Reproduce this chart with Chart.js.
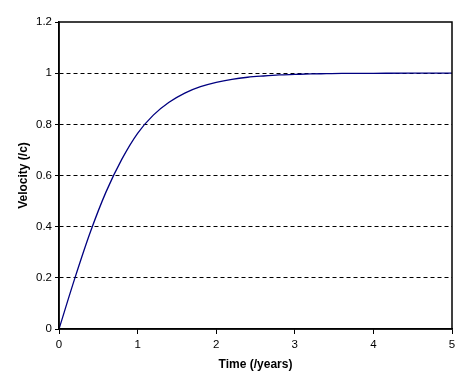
<!DOCTYPE html>
<html>
<head>
<meta charset="utf-8">
<script src="https://cdn.jsdelivr.net/npm/chart.js@4/dist/chart.umd.min.js"></script>
<style>
  html, body { margin: 0; padding: 0; background: #ffffff; }
  #wrap { width: 463px; height: 380px; position: relative; }
</style>
</head>
<body>
<div id="wrap"><canvas id="c" width="463" height="380"></canvas></div>
<script>
// Time (years) and velocity (fraction of c)
const times = [0, 0.2, 0.4, 0.6, 0.8, 1.0, 1.2, 1.4, 1.6, 1.8, 2.0, 2.2, 2.4, 2.6, 2.8, 3.0, 3.2, 3.4, 3.6, 3.8, 4.0, 4.5, 5.0];
const velocities = [0, 0.197, 0.380, 0.537, 0.664, 0.765, 0.836, 0.886, 0.922, 0.947, 0.964, 0.976, 0.984, 0.989, 0.993, 0.995, 0.997, 0.998, 0.999, 0.999, 0.9993, 1.0, 1.0];
const xTicks = [0, 1, 2, 3, 4, 5];
const yTicks = [0, 0.2, 0.4, 0.6, 0.8, 1, 1.2];
const xTitle = 'Time (/years)';
const yTitle = 'Velocity (/c)';

const points = times.map((t, i) => ({ x: t, y: velocities[i] }));

const frame = {
  id: 'frame',
  afterDatasetsDraw(chart) {
    const a = chart.chartArea;
    const ctx = chart.ctx;
    ctx.save();
    ctx.strokeStyle = '#000';
    ctx.lineWidth = 1.5;
    ctx.strokeRect(a.left, a.top, a.right - a.left, a.bottom - a.top);
    ctx.restore();
  }
};

const tickFont = { family: '"Liberation Sans", Arial, sans-serif', size: 11.5 };
const titleFont = { family: '"Liberation Sans", Arial, sans-serif', size: 12, weight: 'bold' };

new Chart(document.getElementById('c'), {
  type: 'line',
  data: {
    datasets: [{
      data: points,
      borderColor: '#000080',
      borderWidth: 1.3,
      pointRadius: 0,
      fill: false,
      cubicInterpolationMode: 'monotone'
    }]
  },
  options: {
    responsive: false,
    animation: false,
    devicePixelRatio: 1,
    layout: { padding: { left: 0, top: 22, right: 11, bottom: 0 } },
    plugins: { legend: { display: false }, tooltip: { enabled: false } },
    scales: {
      x: {
        type: 'linear',
        min: 0, max: 5,
        afterFit(s) { s.height = 51; },
        afterBuildTicks(s) { s.ticks = xTicks.map(v => ({ value: v })); },
        grid: { drawOnChartArea: false, drawTicks: true, tickLength: 5, tickColor: '#000', tickWidth: 1 },
        border: { display: true, color: '#000', width: 1.5 },
        ticks: { color: '#000', font: tickFont, padding: 4, maxRotation: 0 },
        title: { display: true, text: xTitle, color: '#000', font: titleFont, padding: { top: 0, bottom: 8.5 } }
      },
      y: {
        type: 'linear',
        min: 0, max: 1.2,
        afterFit(s) { s.width = 59; },
        afterBuildTicks(s) { s.ticks = yTicks.map(v => ({ value: v })); },
        grid: {
          drawOnChartArea: true,
          drawTicks: true,
          tickLength: 4,
          tickColor: '#000',
          color: (c) => (c.tick && (c.tick.value === 0 || c.tick.value === 1.2)) ? 'rgba(0,0,0,0)' : '#000',
          lineWidth: 1
        },
        border: { display: true, color: '#000', width: 1.5, dash: [4, 3] },
        ticks: { color: '#000', font: tickFont, padding: 3, callback: (v) => String(Math.round(v * 10) / 10) },
        title: { display: true, text: yTitle, color: '#000', font: titleFont, padding: { top: 16.5, bottom: 0 } }
      }
    }
  },
  plugins: [frame]
});
</script>
</body>
</html>
